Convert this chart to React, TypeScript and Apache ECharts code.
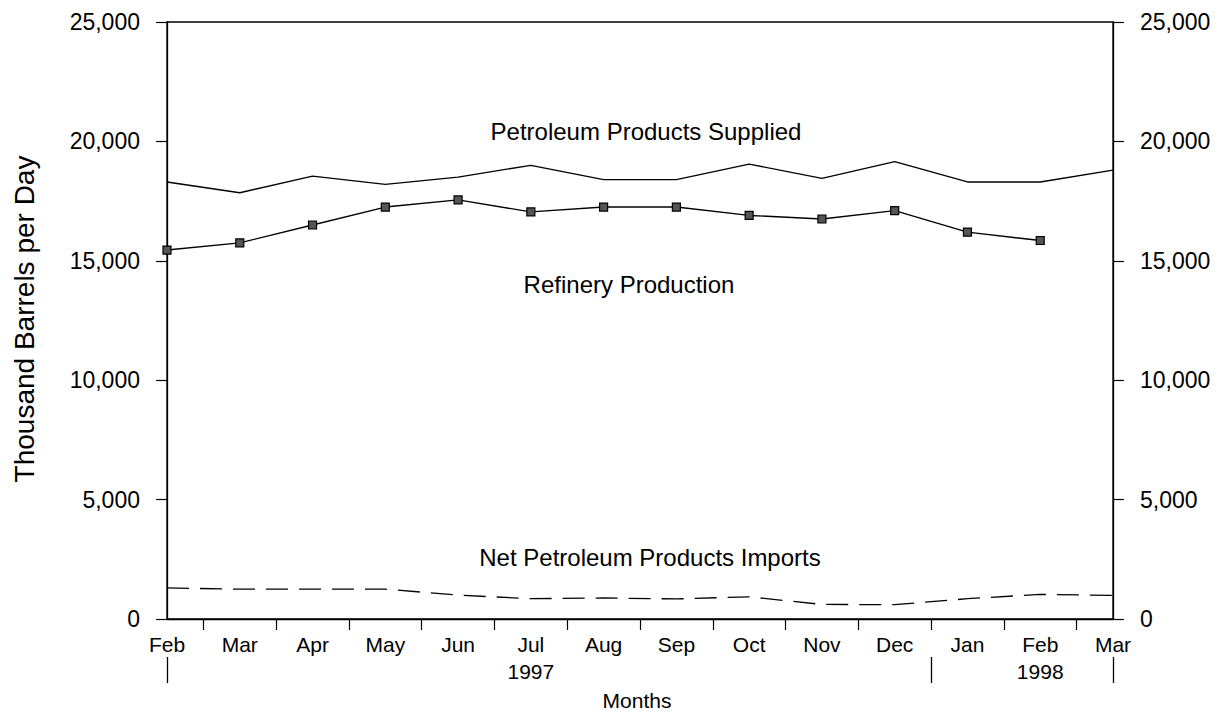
import React, { useEffect, useRef } from 'react';
import * as echarts from 'echarts';

const categories = [
  'Feb 1997', 'Mar 1997', 'Apr 1997', 'May 1997', 'Jun 1997', 'Jul 1997', 'Aug 1997',
  'Sep 1997', 'Oct 1997', 'Nov 1997', 'Dec 1997', 'Jan 1998', 'Feb 1998', 'Mar 1998',
];
const monthLabels = [
  'Feb', 'Mar', 'Apr', 'May', 'Jun', 'Jul\n1997', 'Aug',
  'Sep', 'Oct', 'Nov', 'Dec', 'Jan', 'Feb\n1998', 'Mar',
];
const supplied = [18300, 17850, 18550, 18200, 18500, 19000, 18400, 18400, 19050, 18450, 19150, 18300, 18300, 18800];
const refinery = [15450, 15750, 16500, 17250, 17550, 17050, 17250, 17250, 16900, 16750, 17100, 16200, 15850, null];
const imports = [1300, 1250, 1250, 1250, 1000, 850, 880, 840, 930, 610, 600, 850, 1030, 990];

const yMin = 0;
const yMax = 25000;
const yStep = 5000;

const annotations = [
  { text: 'Petroleum Products Supplied', x: 646, y: 131 },
  { text: 'Refinery Production', x: 629, y: 284 },
  { text: 'Net Petroleum Products Imports', x: 650, y: 557 },
];
const yTitle = 'Thousand Barrels per Day';
const xTitle = 'Months';
// year groups are separated at these (fractional) category indexes
const yearBoundaries = [-0.5, 10.5, 13.5];

const FONT = '"Liberation Sans", Arial, Helvetica, sans-serif';

export default function App() {
  const ref = useRef<HTMLDivElement>(null);

  useEffect(() => {
    if (!ref.current) return;
    const chart = echarts.init(ref.current, undefined, { renderer: 'svg' });

    const halfSteps: string[] = [];
    categories.forEach((c, i) => {
      halfSteps.push(c);
      if (i < categories.length - 1) halfSteps.push(c + ' mid');
    });

    const fmt = (v: number) => v.toLocaleString('en-US');
    const yAxisBase = (position: 'left' | 'right') => ({
      type: 'value',
      position,
      min: yMin,
      max: yMax,
      interval: yStep,
      axisLine: { show: true, lineStyle: { color: '#000', width: 1.3 } },
      axisTick: { show: true, length: 11, lineStyle: { color: '#000', width: 1.2 } },
      axisLabel: { color: '#000', fontSize: 23, fontFamily: FONT, margin: 27, formatter: fmt },
      splitLine: { show: false },
    });

    const option: any = {
      animation: false,
      backgroundColor: '#fff',
      grid: {
        left: 167, right: 115, top: 22, bottom: 94,
        show: true, borderColor: '#000', borderWidth: 1.3, backgroundColor: 'transparent',
      },
      xAxis: [
        {
          type: 'category',
          data: categories,
          boundaryGap: false,
          position: 'bottom',
          axisLine: { show: true, lineStyle: { color: '#000', width: 1.3 } },
          axisTick: { show: false },
          axisLabel: {
            interval: 0,
            formatter: (_v: string, i: number) => monthLabels[i],
            color: '#000', fontSize: 21, fontFamily: FONT, margin: 12, lineHeight: 27,
          },
          splitLine: { show: false },
        },
        {
          type: 'category',
          data: halfSteps,
          boundaryGap: false,
          position: 'bottom',
          axisLine: { show: false },
          axisTick: {
            show: true, length: 11,
            interval: (i: number) => i % 2 === 1,
            lineStyle: { color: '#000', width: 1.2 },
          },
          axisLabel: { show: false },
          splitLine: { show: false },
        },
      ],
      yAxis: [yAxisBase('left'), yAxisBase('right')],
      series: [
        {
          name: 'Petroleum Products Supplied',
          type: 'line',
          data: supplied,
          showSymbol: false,
          symbol: 'none',
          lineStyle: { color: '#000', width: 1.3 },
        },
        {
          name: 'Refinery Production',
          type: 'line',
          data: refinery,
          symbol: 'rect',
          symbolSize: 8,
          itemStyle: { color: '#555', borderColor: '#000', borderWidth: 1.2 },
          lineStyle: { color: '#000', width: 1.4 },
        },
        {
          name: 'Net Petroleum Products Imports',
          type: 'line',
          data: imports,
          symbol: 'none',
          lineStyle: { color: '#000', width: 1.3, type: [22, 11] },
        },
      ],
    };
    chart.setOption(option);

    const toX = (idx: number) => {
      const n = categories.length - 1;
      const px = (k: number) => chart.convertToPixel({ xAxisIndex: 0 }, categories[Math.max(0, Math.min(n, k))]) as number;
      if (idx <= 0) return px(0);
      if (idx >= n) return px(n);
      return (px(Math.floor(idx)) + px(Math.ceil(idx))) / 2;
    };
    const bottomY = chart.convertToPixel({ yAxisIndex: 0 }, yMin) as number;

    const graphics: any[] = [];
    annotations.forEach((a) => {
      graphics.push({
        type: 'text', x: a.x, y: a.y,
        style: { text: a.text, fontSize: 24, fontFamily: FONT, fill: '#000', align: 'center', verticalAlign: 'middle' },
      });
    });
    graphics.push({
      type: 'text', x: 24, y: 319, rotation: Math.PI / 2,
      style: { text: yTitle, fontSize: 28, fontFamily: FONT, fill: '#000', align: 'center', verticalAlign: 'middle' },
    });
    graphics.push({
      type: 'text', x: 637, y: 700,
      style: { text: xTitle, fontSize: 21, fontFamily: FONT, fill: '#000', align: 'center', verticalAlign: 'middle' },
    });
    yearBoundaries.forEach((b) => {
      const x = Math.round(toX(b)) + 0.5;
      graphics.push({
        type: 'line',
        shape: { x1: x, y1: bottomY + 38, x2: x, y2: bottomY + 64 },
        style: { stroke: '#000', lineWidth: 1.3 },
      });
    });
    chart.setOption({ graphic: graphics });

    return () => chart.dispose();
  }, []);

  return (
    <div
      ref={ref}
      style={{ position: 'fixed', left: 0, top: 0, width: 1228, height: 713, background: '#fff' }}
    />
  );
}
